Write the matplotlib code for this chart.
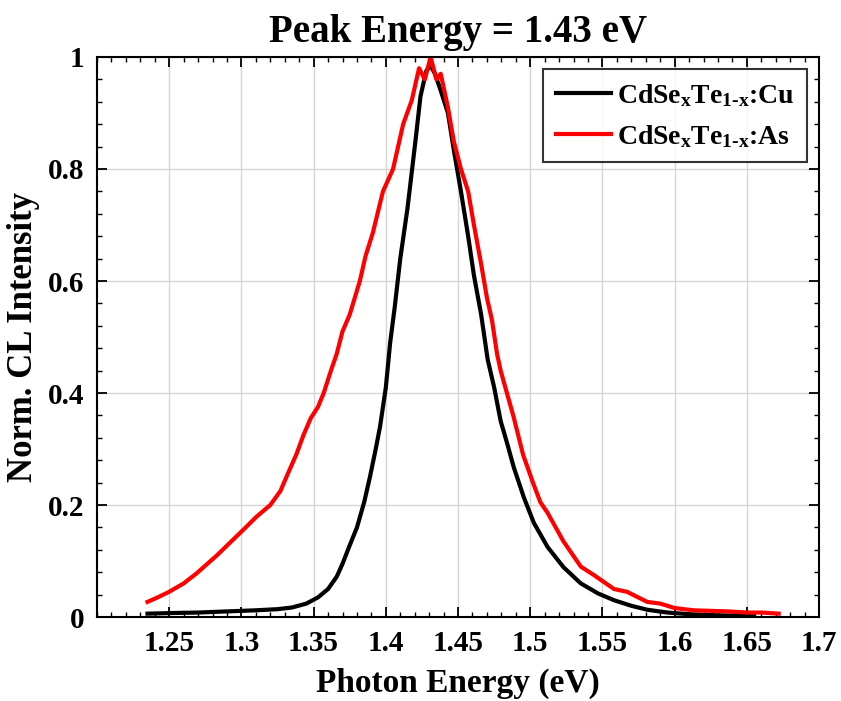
import matplotlib
matplotlib.use("Agg")
import matplotlib.pyplot as plt
from matplotlib.ticker import MultipleLocator

plt.rcParams['font.family'] = 'Liberation Serif'
plt.rcParams['font.weight'] = 'bold'
plt.rcParams['mathtext.fontset'] = 'custom'
plt.rcParams['mathtext.rm'] = 'Liberation Serif:bold'
plt.rcParams['mathtext.it'] = 'Liberation Serif:bold'
plt.rcParams['mathtext.bf'] = 'Liberation Serif:bold'

# CdSeTe:Cu spectrum
cu_energy = [1.235, 1.25, 1.27, 1.29, 1.31, 1.325, 1.335, 1.345, 1.353, 1.36,
             1.366, 1.370, 1.375, 1.380, 1.385, 1.389, 1.393, 1.396, 1.400, 1.403,
             1.406, 1.410, 1.415, 1.4205, 1.424, 1.428, 1.431, 1.434, 1.438, 1.443,
             1.447, 1.452, 1.457, 1.461, 1.466, 1.4705, 1.475, 1.4795, 1.484, 1.4885,
             1.4955, 1.5025, 1.512, 1.523, 1.535, 1.547, 1.558, 1.57, 1.581, 1.595,
             1.61, 1.63, 1.655]
cu_int = [0.006, 0.007, 0.008, 0.010, 0.012, 0.014, 0.017, 0.024, 0.035, 0.05,
          0.072, 0.095, 0.128, 0.160, 0.205, 0.250, 0.30, 0.340, 0.41, 0.49,
          0.55, 0.64, 0.73, 0.85, 0.93, 0.975, 0.985, 0.97, 0.94, 0.90,
          0.835, 0.76, 0.68, 0.61, 0.54, 0.46, 0.41, 0.35, 0.31, 0.268,
          0.214, 0.168, 0.125, 0.089, 0.06, 0.042, 0.030, 0.020, 0.013, 0.008,
          0.005, 0.003, 0.002]

# CdSeTe:As spectrum
as_energy = [1.235, 1.242, 1.25, 1.26, 1.269, 1.283, 1.295, 1.303, 1.31, 1.320,
             1.327, 1.332, 1.338, 1.343, 1.348, 1.353, 1.357, 1.362, 1.366, 1.370,
             1.375, 1.382, 1.386, 1.391, 1.398, 1.405, 1.412, 1.418, 1.423, 1.427,
             1.431, 1.435, 1.438, 1.443, 1.447, 1.452, 1.457, 1.461, 1.466, 1.470,
             1.4735, 1.477, 1.4795, 1.486, 1.4885, 1.495, 1.502, 1.507, 1.512, 1.523,
             1.535, 1.544, 1.558, 1.567, 1.581, 1.59, 1.60, 1.613, 1.625, 1.637,
             1.65, 1.66, 1.672]
as_int = [0.027, 0.035, 0.045, 0.060, 0.078, 0.110, 0.140, 0.160, 0.178, 0.200,
          0.225, 0.255, 0.29, 0.325, 0.355, 0.375, 0.40, 0.44, 0.47, 0.51,
          0.54, 0.60, 0.645, 0.686, 0.76, 0.80, 0.88, 0.923, 0.98, 0.96,
          1.0, 0.96, 0.97, 0.91, 0.85, 0.80, 0.76, 0.70, 0.63, 0.57,
          0.53, 0.47, 0.44, 0.38, 0.357, 0.29, 0.239, 0.205, 0.186, 0.135,
          0.090, 0.075, 0.050, 0.045, 0.027, 0.024, 0.016, 0.012, 0.011, 0.010,
          0.008, 0.008, 0.006]

fig = plt.figure(figsize=(8.41, 7.01), dpi=100)
ax = fig.add_axes([0.1153, 0.1198, 0.8587, 0.7989])

ax.plot(cu_energy, cu_int, color='black', lw=3,
        label=r'CdSe$_\mathrm{x}$Te$_\mathrm{1\text{-}x}$:Cu')
ax.plot(as_energy, as_int, color='#ff0000', lw=3,
        label=r'CdSe$_\mathrm{x}$Te$_\mathrm{1\text{-}x}$:As')

ax.set_xlim(1.2, 1.7)
ax.set_ylim(0, 1)
ax.xaxis.set_minor_locator(MultipleLocator(0.01))
ax.yaxis.set_minor_locator(MultipleLocator(0.04))
ax.set_xticks([1.25, 1.3, 1.35, 1.4, 1.45, 1.5, 1.55, 1.6, 1.65, 1.7])
ax.set_xticklabels(['1.25', '1.3', '1.35', '1.4', '1.45', '1.5', '1.55', '1.6', '1.65', '1.7'])
ax.set_yticks([0, 0.2, 0.4, 0.6, 0.8, 1])
ax.set_yticklabels(['0', '0.2', '0.4', '0.6', '0.8', '1'])
ax.tick_params(which='both', direction='in', top=True, right=True, labelsize=21, pad=9)
ax.tick_params(which='major', length=7, width=1.3)
ax.tick_params(which='minor', length=3.5, width=1.0)
ax.grid(True, which='major', color='#d6d6d6', lw=1.0)
for s in ax.spines.values():
    s.set_linewidth(1.5)

ax.set_xlabel('Photon Energy (eV)', fontsize=24, fontweight='bold', labelpad=8)
ax.set_ylabel('Norm. CL Intensity', fontsize=25, fontweight='bold', labelpad=6)
ax.set_title('Peak Energy = 1.43 eV', fontsize=28, fontweight='bold', pad=11)

leg = ax.legend(loc='upper right', fontsize=20, frameon=True, fancybox=False,
                edgecolor='black', handlelength=2.0, borderaxespad=0.45,
                labelspacing=0.5, handletextpad=0.2, borderpad=0.45)
leg.get_frame().set_linewidth(1.5)

fig.savefig('out.png', dpi=100)
